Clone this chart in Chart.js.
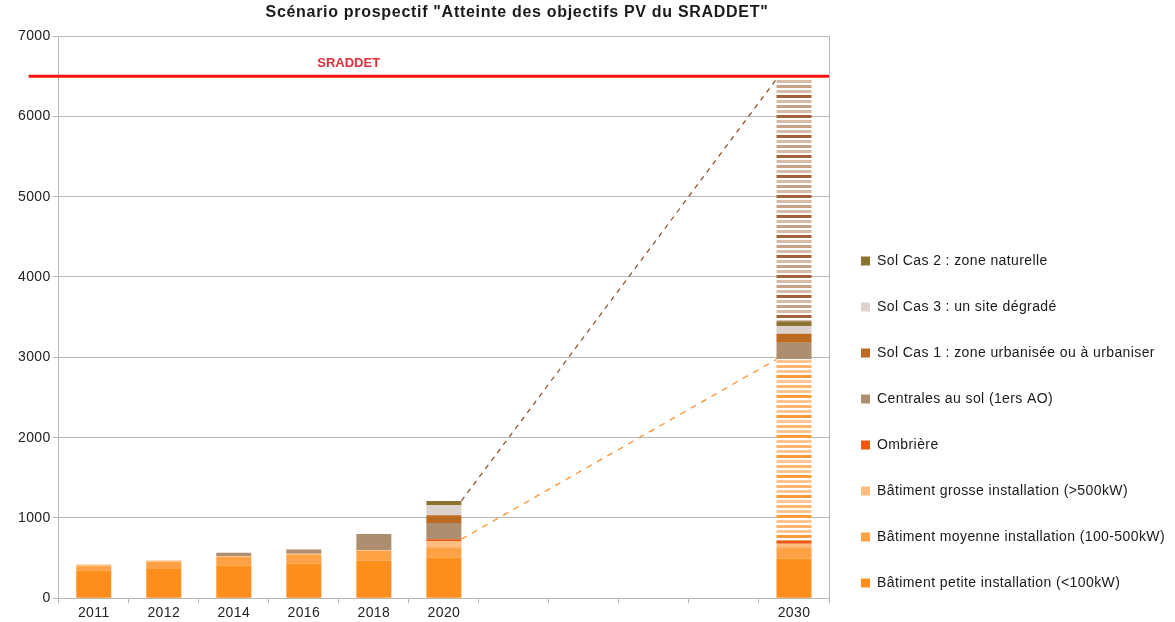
<!DOCTYPE html>
<html>
<head>
<meta charset="utf-8">
<script src="https://cdn.jsdelivr.net/npm/chart.js@4.4.0/dist/chart.umd.min.js"></script>
<style>
    body { margin: 0; background: #ffffff; }
    #wrap { position: relative; width: 1175px; height: 622px; }
    #titre {
        position: absolute; left: 0; top: 3px; width: 1034px;
        text-align: center; color: #1a1a1a; letter-spacing: 0.7px;
        font: bold 16px "Liberation Sans", Arial, sans-serif;
    }
</style>
</head>
<body>
<div id="wrap">
    <canvas id="pvChart" width="1175" height="622"></canvas>
    <div id="titre">Scénario prospectif "Atteinte des objectifs PV du SRADDET"</div>
</div>
<script>
// valeurs (MW)
var annees = ["2011", "2012", "2014", "2016", "2018", "2020", "", "", "", "", "2030"];
var batPetite = [345, 366, 408, 429, 470, 506, null, null, null, null, 491];
var batMoyenne = [55, 90, 105, 115, 118, 130, null, null, null, null, 146];
var batGrosse = [20, 14, 12, 10, 10, 72, null, null, null, null, 42];
var ombriere = [0, 0, 0, 0, 0, 28, null, null, null, null, 41];
var batScenario = [null, null, null, null, null, null, null, null, null, null, 2255];
var centrales = [0, 0, 41, 54, 202, 200, null, null, null, null, 207];
var solCas1 = [0, 0, 0, 0, 0, 98, null, null, null, null, 110];
var solCas3 = [0, 0, 0, 0, 0, 123, null, null, null, null, 98];
var solCas2 = [0, 0, 0, 0, 0, 55, null, null, null, null, 60];
var solScenario = [null, null, null, null, null, null, null, null, null, null, 3015];
var objectifSraddet = 6500;
var lienSol = [1212, 6465];   // haut de pile 2020 -> haut de pile 2030
var lienBat = [736, 2975];    // haut bâtiments 2020 -> haut bâtiments 2030

var ctx = document.getElementById("pvChart").getContext("2d");
var iDebut = annees.indexOf("2020");
var iFin = annees.indexOf("2030");
var demiBarre = 0.25;

function hachures(couleurs) {
    var c = document.createElement("canvas");
    c.width = 4;
    c.height = couleurs.length * 5;
    var g = c.getContext("2d");
    g.fillStyle = "#ffffff";
    g.fillRect(0, 0, c.width, c.height);
    for (var i = 0; i < couleurs.length; i++) {
        g.fillStyle = couleurs[i];
        g.fillRect(0, i * 5, 4, 3);
    }
    return ctx.createPattern(c, "repeat");
}

function barres(label, data, couleur, legende) {
    return {
        type: "bar", label: label, data: data, backgroundColor: couleur,
        borderWidth: 0, barPercentage: 0.5, categoryPercentage: 1,
        stack: "pile", grouped: false,
        xAxisID: "x", yAxisID: "y", legende: legende !== false
    };
}

function trait(label, points, couleur, largeur, tirets) {
    return {
        type: "line", label: label, data: points, borderColor: couleur,
        borderWidth: largeur, borderDash: tirets, pointRadius: 0, fill: false,
        xAxisID: "x2", yAxisID: "y", stack: label, clip: false, order: -1, legende: false
    };
}

// le rendu d'origine espace un peu les lettres
var espacement = {
    id: "espacement",
    beforeUpdate: function (chart) { chart.ctx.letterSpacing = "0.4px"; },
    beforeDraw: function (chart) { chart.ctx.letterSpacing = "0.4px"; }
};

var etiquetteSraddet = {
    id: "etiquetteSraddet",
    afterDatasetsDraw: function (chart) {
        var c = chart.ctx;
        var x = chart.scales.x2.getPixelForValue(3.64);
        var y = chart.scales.y.getPixelForValue(objectifSraddet);
        c.save();
        c.letterSpacing = "0px";
        c.font = "bold 13px 'Liberation Sans', Arial, sans-serif";
        c.fillStyle = "#e22d3a";
        c.textAlign = "center";
        c.textBaseline = "alphabetic";
        c.fillText("SRADDET", x, y - 9);
        c.restore();
    }
};

var grille = "#b8b8b8";

new Chart(ctx, {
    data: {
        labels: annees,
        datasets: [
            barres("Bâtiment petite installation (<100kW)", batPetite, "#ff8e1c"),
            barres("Bâtiment moyenne installation (100-500kW)", batMoyenne, "#ffa245"),
            barres("Bâtiment grosse installation (>500kW)", batGrosse, "#ffbd80"),
            barres("Ombrière", ombriere, "#e95a12"),
            barres("Bâtiment scénario", batScenario, hachures(["#ffc592", "#ffb673", "#ffc592", "#ff9b3d"]), false),
            barres("Centrales au sol (1ers AO)", centrales, "#ad8e6f"),
            barres("Sol Cas 1 : zone urbanisée ou à urbaniser", solCas1, "#bd6a22"),
            barres("Sol Cas 3 : un site dégradé", solCas3, "#ddd2ce"),
            barres("Sol Cas 2 : zone naturelle", solCas2, "#8b7431"),
            barres("Sol scénario", solScenario, hachures(["#d8bba6", "#c7a085", "#d8bba6", "#a3623a"]), false),
            trait("SRADDET", [{ x: -0.93, y: objectifSraddet }, { x: 10.5, y: objectifSraddet }], "#ff1010", 3, []),
            trait("lienSol", [{ x: iDebut + demiBarre, y: lienSol[0] }, { x: iFin - demiBarre, y: lienSol[1] }], "#8a4a22", 1.2, [5, 5]),
            trait("lienBat", [{ x: iDebut + demiBarre, y: lienBat[0] }, { x: iFin - demiBarre, y: lienBat[1] }], "#ff8a20", 1.2, [6, 6])
        ]
    },
    options: {
        responsive: false,
        animation: false,
        layout: { padding: { left: 16, right: 0, top: 36, bottom: 0 } },
        plugins: {
            title: { display: false },
            tooltip: { enabled: false },
            legend: {
                position: "right",
                align: "end",
                reverse: true,
                maxWidth: 360,
                labels: {
                    boxWidth: 9,
                    boxHeight: 9,
                    padding: 32,
                    color: "#1a1a1a",
                    font: { family: "'Liberation Sans', Arial, sans-serif", size: 14 },
                    filter: function (item, data) {
                        return data.datasets[item.datasetIndex].legende;
                    }
                }
            }
        },
        scales: {
            x: {
                type: "category",
                stacked: true,
                grid: { display: true, drawOnChartArea: false, drawTicks: true, tickLength: 5, color: grille },
                border: { display: true, color: grille },
                ticks: {
                    autoSkip: false, maxRotation: 0, padding: 2, color: "#222222",
                    font: { family: "'Liberation Sans', Arial, sans-serif", size: 14, lineHeight: 1.05 }
                }
            },
            x2: { type: "linear", display: false, min: -0.5, max: 10.5 },
            y: {
                stacked: true,
                min: 0,
                max: 7000,
                grid: { color: grille, tickLength: 6 },
                border: { display: true, color: grille },
                ticks: {
                    stepSize: 1000, padding: 2, color: "#222222",
                    font: { family: "'Liberation Sans', Arial, sans-serif", size: 14 },
                    callback: function (v) { return String(v); }
                }
            },
            yR: {
                axis: "y",
                position: "right",
                min: 0,
                max: 7000,
                grid: { drawOnChartArea: false, drawTicks: false },
                border: { display: true, color: grille },
                ticks: { display: false }
            }
        }
    },
    plugins: [espacement, etiquetteSraddet]
});
</script>
</body>
</html>
